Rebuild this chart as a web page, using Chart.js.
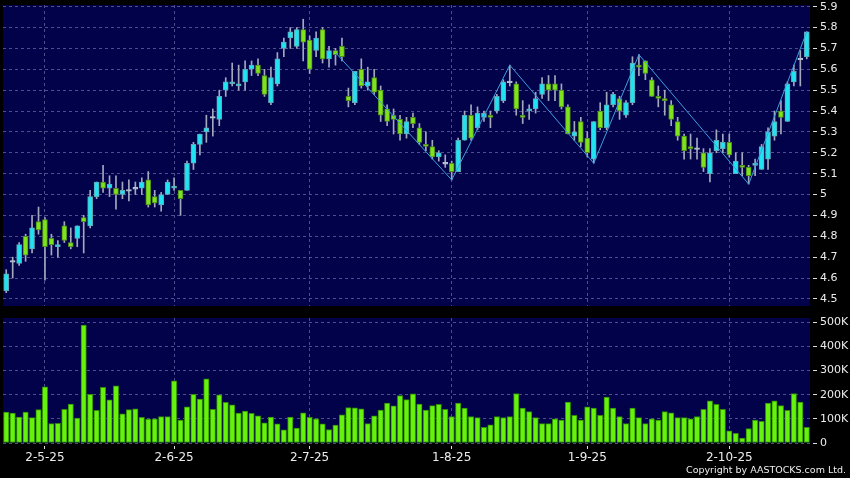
<!DOCTYPE html>
<html>
<head>
  <meta charset="utf-8">
  <title>Price / Volume</title>
  <script src="https://cdn.jsdelivr.net/npm/chart.js"></script>
  <style>
    html, body {
      margin: 0;
      padding: 0;
      background: #000;
    }
    .wrap {
      position: relative;
      width: 850px;
      height: 478px;
      overflow: hidden;
    }
    #priceChart { position: absolute; left: 0; top: 0; }
    #volChart { position: absolute; left: 0; top: 310px; }
    .copy {
      position: absolute;
      right: 4px;
      top: 464px;
      color: #eee;
      font: 9.5px 'DejaVu Sans', sans-serif;
      white-space: nowrap;
    }
  </style>
</head>
<body>
<div class="wrap">
  <canvas id="priceChart" width="850" height="310"></canvas>
  <canvas id="volChart" width="850" height="168"></canvas>
  <div class="copy">Copyright by AASTOCKS.com Ltd.</div>
</div>

<script>
  // daily OHLC, one value per trading day
  const openP = [4.54,4.68,4.67,4.80,4.74,4.87,4.88,4.79,4.75,4.85, 4.77,4.79,4.89,4.85,4.99,5.06,5.03,5.03,5.00,5.02,
    5.03,5.03,5.07,4.99,4.95,5.00,5.03,5.02,5.02,5.15, 5.24,5.30,5.37,5.36,5.50,5.53,5.52,5.54,5.60,5.62,
    5.57,5.44,5.53,5.70,5.75,5.71,5.79,5.74,5.69,5.79, 5.65,5.69,5.71,5.47,5.44,5.60,5.52,5.56,5.50,5.41,
    5.38,5.36,5.29,5.37,5.32,5.24,5.23,5.18,5.15,5.15, 5.11,5.26,5.38,5.32,5.37,5.38,5.40,5.45,5.54,5.53,
    5.38,5.40,5.41,5.48,5.53,5.53,5.50,5.42,5.28,5.35, 5.27,5.17,5.40,5.32,5.43,5.46,5.38,5.44,5.62,5.64,
    5.55,5.47,5.46,5.43,5.35,5.28,5.23,5.22,5.20,5.10, 5.21,5.22,5.25,5.10,5.14,5.13,5.14,5.12,5.17,5.28,
    5.40,5.35,5.54,5.65,5.66];
  const highP = [4.64,4.70,4.77,4.81,4.90,4.94,4.89,4.81,4.78,4.87, 4.84,4.85,4.90,5.02,5.06,5.14,5.09,5.09,5.06,5.07,
    5.06,5.08,5.11,5.02,5.01,5.07,5.08,5.02,5.16,5.25, 5.29,5.38,5.41,5.50,5.56,5.63,5.62,5.64,5.64,5.65,
    5.60,5.61,5.68,5.75,5.80,5.80,5.84,5.76,5.78,5.80, 5.71,5.70,5.75,5.51,5.59,5.65,5.61,5.60,5.52,5.43,
    5.41,5.38,5.37,5.39,5.34,5.30,5.26,5.21,5.19,5.16, 5.27,5.40,5.43,5.42,5.40,5.40,5.48,5.55,5.62,5.54,
    5.45,5.43,5.49,5.56,5.57,5.57,5.53,5.43,5.35,5.37, 5.30,5.35,5.44,5.49,5.49,5.47,5.45,5.66,5.67,5.64,
    5.56,5.52,5.50,5.45,5.37,5.29,5.29,5.27,5.22,5.22, 5.31,5.29,5.29,5.20,5.20,5.14,5.17,5.24,5.32,5.40,
    5.45,5.54,5.62,5.69,5.78];
  const lowP = [4.53,4.60,4.66,4.68,4.72,4.81,4.59,4.71,4.70,4.77, 4.74,4.75,4.72,4.84,4.98,5.01,4.99,4.93,4.98,4.97,
    5.00,5.00,4.94,4.94,4.92,5.00,5.02,4.90,5.02,5.12, 5.19,5.25,5.28,5.33,5.47,5.52,5.50,5.50,5.57,5.57,
    5.47,5.43,5.52,5.66,5.70,5.70,5.64,5.58,5.66,5.63, 5.61,5.62,5.64,5.42,5.43,5.51,5.50,5.48,5.35,5.33,
    5.29,5.26,5.27,5.32,5.24,5.21,5.17,5.16,5.13,5.07, 5.11,5.26,5.26,5.31,5.35,5.32,5.39,5.44,5.52,5.38,
    5.34,5.36,5.39,5.46,5.45,5.45,5.41,5.29,5.26,5.23, 5.18,5.15,5.31,5.31,5.42,5.36,5.37,5.43,5.57,5.55,
    5.47,5.42,5.38,5.33,5.26,5.17,5.17,5.17,5.11,5.06, 5.20,5.20,5.18,5.10,5.09,5.05,5.09,5.12,5.12,5.26,
    5.29,5.35,5.52,5.52,5.65];
  const closeP = [4.62,4.68,4.76,4.71,4.84,4.83,4.75,4.76,4.76,4.78, 4.75,4.85,4.87,4.99,5.06,5.03,5.05,5.00,5.02,5.02,
    5.03,5.06,4.95,4.96,5.00,5.06,5.04,4.98,5.15,5.24, 5.29,5.32,5.37,5.47,5.54,5.54,5.53,5.60,5.62,5.58,
    5.48,5.56,5.65,5.73,5.78,5.79,5.73,5.60,5.75,5.65, 5.69,5.67,5.66,5.45,5.59,5.52,5.54,5.49,5.38,5.35,
    5.36,5.29,5.35,5.34,5.25,5.23,5.18,5.20,5.15,5.11, 5.26,5.38,5.27,5.39,5.39,5.37,5.47,5.54,5.54,5.41,
    5.37,5.41,5.46,5.53,5.50,5.50,5.42,5.29,5.30,5.25, 5.20,5.35,5.32,5.43,5.48,5.40,5.44,5.63,5.61,5.58,
    5.47,5.46,5.45,5.36,5.28,5.21,5.22,5.22,5.13,5.20, 5.26,5.25,5.19,5.16,5.13,5.09,5.15,5.23,5.30,5.35,
    5.37,5.53,5.59,5.65,5.78];

  // volume in thousands of shares
  const volumeK = [128,124,107,128,105,138,233,80,81,140, 161,103,489,202,135,231,179,237,121,138,
    142,106,99,100,109,110,258,95,150,202, 182,266,140,200,169,158,124,132,123,113,
    84,107,79,55,107,62,125,106,100,79, 56,74,117,147,146,142,80,113,136,165,
    154,196,180,204,161,136,155,160,140,110, 165,145,110,105,65,75,110,105,110,205,
    145,130,105,80,80,100,95,170,115,95, 150,145,115,190,145,110,80,145,105,80,
    100,95,130,125,105,105,100,110,140,175, 160,140,50,40,20,60,95,90,165,175,
    155,135,205,170,65];

  // month labels on the time axis
  const tickIdx = [6, 26, 47, 69, 90, 112];
  const tickText = ['2-5-25', '2-6-25', '2-7-25', '1-8-25', '1-9-25', '2-10-25'];

  // zigzag turning points
  const zzIdx = [51, 69, 78, 91, 98, 115, 124];
  const zzVal = [5.68, 5.07, 5.62, 5.15, 5.67, 5.05, 5.78];

  const UP = '#20e2f0', UP_EDGE = '#5fa8b8';
  const DOWN = '#7ee21c', DOWN_EDGE = '#4d8c1c';
  const FLAT = '#b8c4d4';
  const WICK = '#a4a8bc';
  const GRID = 'rgba(130,130,190,0.6)';
  const PLOT_BG = '#02024a';
  const TEXT = '#ececec';

  Chart.defaults.font.family = "'DejaVu Sans', sans-serif";

  const dayLabels = openP.map((_, i) => {
    const k = tickIdx.indexOf(i);
    return k >= 0 ? tickText[k] : '';
  });
  const monthLine = ctx => tickIdx.includes(ctx.index) ? GRID : 'rgba(0,0,0,0)';

  const plotBg = {
    id: 'plotBg',
    beforeDraw(chart) {
      const { ctx, chartArea: a } = chart;
      ctx.save();
      ctx.fillStyle = PLOT_BG;
      ctx.fillRect(a.left, a.top, a.right - a.left, a.bottom - a.top);
      ctx.restore();
    }
  };

  const wickData = lowP.map((l, i) => [l, highP[i]]);
  const bodyData = openP.map((o, i) => {
    const c = closeP[i];
    if (Math.abs(c - o) < 0.005) return [o - 0.004, o + 0.004];
    return [Math.min(o, c), Math.max(o, c)];
  });
  const bodyFill = openP.map((o, i) => closeP[i] > o ? UP : (closeP[i] < o ? DOWN : FLAT));
  const bodyEdge = openP.map((o, i) => closeP[i] > o ? UP_EDGE : (closeP[i] < o ? DOWN_EDGE : FLAT));
  const zigzag = openP.map(() => null);
  zzIdx.forEach((k, j) => { zigzag[k] = zzVal[j]; });

  const yTickCommon = {
    color: TEXT,
    font: { size: 11 },
    padding: 3,
    includeBounds: false
  };

  new Chart(document.getElementById('priceChart'), {
    type: 'bar',
    data: {
      labels: dayLabels,
      datasets: [
        {
          type: 'line',
          data: zigzag,
          spanGaps: true,
          borderColor: '#3c9ee0',
          borderWidth: 1,
          pointRadius: 0,
          order: 0
        },
        {
          data: bodyData,
          backgroundColor: bodyFill,
          borderColor: bodyEdge,
          borderWidth: 1,
          borderSkipped: false,
          barThickness: 5,
          grouped: false,
          order: 1
        },
        {
          data: wickData,
          backgroundColor: WICK,
          barThickness: 1,
          grouped: false,
          order: 2
        }
      ]
    },
    options: {
      responsive: false,
      animation: false,
      layout: { padding: { left: 3, top: 5, right: 0, bottom: 4 } },
      plugins: { legend: { display: false }, tooltip: { enabled: false } },
      scales: {
        x: {
          offset: true,
          ticks: { display: false, autoSkip: false },
          grid: { offset: false, color: monthLine, drawTicks: false },
          border: { display: false, dash: [3, 3] },
          afterFit: s => { s.height = 0; s.paddingLeft = 0; s.paddingRight = 0; }
        },
        y: {
          position: 'right',
          min: 4.466,
          max: 5.908,
          ticks: Object.assign({ stepSize: 0.1, callback: v => String(+v.toFixed(1)) }, yTickCommon),
          grid: {
            color: GRID,
            tickColor: '#dddddd',
            tickLength: 7,
            tickBorderDash: [0, 3, 4, 100]
          },
          border: { display: false, dash: [3, 3] },
          afterFit: s => { s.width = 40; s.paddingTop = 0; s.paddingBottom = 0; }
        }
      }
    },
    plugins: [plotBg]
  });

  new Chart(document.getElementById('volChart'), {
    type: 'bar',
    data: {
      labels: dayLabels,
      datasets: [{
        data: volumeK,
        backgroundColor: '#66f20c',
        borderColor: '#2f8a06',
        borderWidth: 1,
        borderSkipped: false,
        barThickness: 5.4
      }]
    },
    options: {
      responsive: false,
      animation: false,
      layout: { padding: { left: 3, top: 8, right: 0, bottom: 0 } },
      plugins: { legend: { display: false }, tooltip: { enabled: false } },
      scales: {
        x: {
          offset: true,
          ticks: {
            autoSkip: false,
            maxRotation: 0,
            color: TEXT,
            font: { size: 12 },
            padding: 2,
            callback: (v, i) => dayLabels[i]
          },
          grid: {
            offset: false,
            color: monthLine,
            tickColor: ctx => tickIdx.includes(ctx.index) ? '#dddddd' : 'rgba(0,0,0,0)',
            tickLength: 6,
            tickBorderDash: [0, 3, 3, 100]
          },
          border: { display: false, dash: [3, 3] },
          afterFit: s => { s.height = 35; s.paddingLeft = 0; s.paddingRight = 0; }
        },
        y: {
          position: 'right',
          min: 0,
          max: 518,
          ticks: Object.assign({
            stepSize: 100,
            callback: v => v === 0 ? '0' : v + 'K'
          }, yTickCommon),
          grid: {
            color: GRID,
            tickColor: '#dddddd',
            tickLength: 7,
            tickBorderDash: [0, 3, 4, 100]
          },
          border: { display: false, dash: [3, 3] },
          afterFit: s => { s.width = 40; s.paddingTop = 0; s.paddingBottom = 0; }
        }
      }
    },
    plugins: [plotBg]
  });
</script>
</body>
</html>
